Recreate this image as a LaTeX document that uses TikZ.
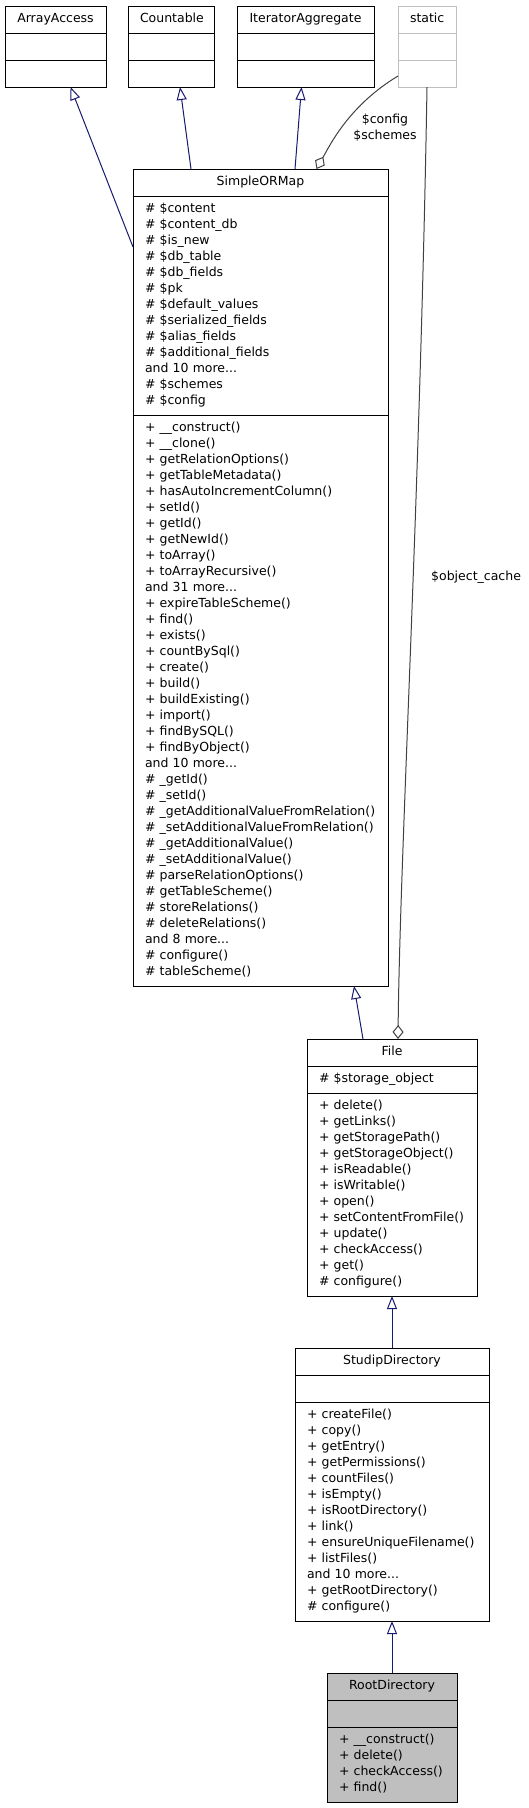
\documentclass[tikz,border=0pt]{standalone}
\usepackage{fontspec}
\usepackage{xcolor}
\usepackage{tikz}
\usetikzlibrary{arrows.meta,positioning,calc}
\newfontfamily\umlfont{DejaVu Sans}
\definecolor{edgeblue}{RGB}{25,25,112}
\definecolor{edgegrey}{RGB}{64,64,64}
\definecolor{boxgrey}{RGB}{191,191,191}
\newcommand{\pub}[1]{+~#1}
\newcommand{\prot}[1]{\#~#1}

\begin{document}
\begin{tikzpicture}[x=1pt, y=-1pt,
            part/.style={draw, fill=white, line width=1pt, outer sep=0pt, inner xsep=12pt, inner ysep=5.5pt,
                 text width=#1, font={\umlfont\fontsize{12.5}{16}\selectfont},
                 execute at begin node=\strut, execute at end node=\strut},
            head/.style={part=#1, align=center, anchor=north west},
            body/.style={part=#1, align=left},
            inherit/.style={draw=edgeblue, line width=1pt, -{Triangle[open, length=13pt, width=10pt]}},
            aggr/.style={draw=edgegrey, line width=1pt, -{Diamond[open, length=14pt, width=11pt]}},
            lbl/.style={inner sep=0pt, font={\umlfont\fontsize{12.5}{16}\selectfont}}
            ]
            \useasboundingbox (0,0) rectangle (529,1808);

            % Interfaces and static
            \node[head=77pt] (aa-head) at (5,6) {ArrayAccess};
            \node[body=77pt, below=0pt of aa-head] (aa-attr) {};
            \node[body=77pt, below=0pt of aa-attr] (aa-meth) {};

            \node[head=62pt] (cnt-head) at (128,6) {Countable};
            \node[body=62pt, below=0pt of cnt-head] (cnt-attr) {};
            \node[body=62pt, below=0pt of cnt-attr] (cnt-meth) {};

            \node[head=113pt] (ia-head) at (237,6) {IteratorAggregate};
            \node[body=113pt, below=0pt of ia-head] (ia-attr) {};
            \node[body=113pt, below=0pt of ia-attr] (ia-meth) {};

            \node[head=34pt, draw=boxgrey] (st-head) at (398,6) {static};
            \node[body=34pt, draw=boxgrey, below=0pt of st-head] (st-attr) {};
            \node[body=34pt, draw=boxgrey, below=0pt of st-attr] (st-meth) {};

            % SimpleORMap
            \node[head=231pt] (sorm-head) at (133,169) {SimpleORMap};
            \node[body=231pt, below=0pt of sorm-head] (sorm-attr) {\prot{\$content}\\
                \prot{\$content\_db}\\
                \prot{\$is\_new}\\
                \prot{\$db\_table}\\
                \prot{\$db\_fields}\\
                \prot{\$pk}\\
                \prot{\$default\_values}\\
                \prot{\$serialized\_fields}\\
                \prot{\$alias\_fields}\\
                \prot{\$additional\_fields}\\
                and~10~more...\\
                \prot{\$schemes}\\
                \prot{\$config}};
            \node[body=231pt, below=0pt of sorm-attr] (sorm-meth) {\pub{\_\_construct()}\\
                \pub{\_\_clone()}\\
                \pub{getRelationOptions()}\\
                \pub{getTableMetadata()}\\
                \pub{hasAutoIncrementColumn()}\\
                \pub{setId()}\\
                \pub{getId()}\\
                \pub{getNewId()}\\
                \pub{toArray()}\\
                \pub{toArrayRecursive()}\\
                and~31~more...\\
                \pub{expireTableScheme()}\\
                \pub{find()}\\
                \pub{exists()}\\
                \pub{countBySql()}\\
                \pub{create()}\\
                \pub{build()}\\
                \pub{buildExisting()}\\
                \pub{import()}\\
                \pub{findBySQL()}\\
                \pub{findByObject()}\\
                and~10~more...\\
                \prot{\_getId()}\\
                \prot{\_setId()}\\
                \prot{\_getAdditionalValueFromRelation()}\\
                \prot{\_setAdditionalValueFromRelation()}\\
                \prot{\_getAdditionalValue()}\\
                \prot{\_setAdditionalValue()}\\
                \prot{parseRelationOptions()}\\
                \prot{getTableScheme()}\\
                \prot{storeRelations()}\\
                \prot{deleteRelations()}\\
                and~8~more...\\
                \prot{configure()}\\
                \prot{tableScheme()}};

            % File
            \node[head=146pt] (file-head) at (307,1039) {File};
            \node[body=146pt, below=0pt of file-head] (file-attr) {\prot{\$storage\_object}};
            \node[body=146pt, below=0pt of file-attr] (file-meth) {\pub{delete()}\\
                \pub{getLinks()}\\
                \pub{getStoragePath()}\\
                \pub{getStorageObject()}\\
                \pub{isReadable()}\\
                \pub{isWritable()}\\
                \pub{open()}\\
                \pub{setContentFromFile()}\\
                \pub{update()}\\
                \pub{checkAccess()}\\
                \pub{get()}\\
                \prot{configure()}};

            % StudipDirectory
            \node[head=170pt] (sd-head) at (295,1348) {StudipDirectory};
            \node[body=170pt, below=0pt of sd-head] (sd-attr) {};
            \node[body=170pt, below=0pt of sd-attr] (sd-meth) {\pub{createFile()}\\
                \pub{copy()}\\
                \pub{getEntry()}\\
                \pub{getPermissions()}\\
                \pub{countFiles()}\\
                \pub{isEmpty()}\\
                \pub{isRootDirectory()}\\
                \pub{link()}\\
                \pub{ensureUniqueFilename()}\\
                \pub{listFiles()}\\
                and~10~more...\\
                \pub{getRootDirectory()}\\
                \prot{configure()}};

            % RootDirectory
            \node[head=106pt, fill=boxgrey] (rd-head) at (327,1673) {RootDirectory};
            \node[body=106pt, fill=boxgrey, below=0pt of rd-head] (rd-attr) {};
            \node[body=106pt, fill=boxgrey, below=0pt of rd-attr] (rd-meth) {\pub{\_\_construct()}\\
                \pub{delete()}\\
                \pub{checkAccess()}\\
                \pub{find()}};

            % Generalisation arrows
            \draw[inherit] ($(sorm-attr.north west)+(0,51)$) -- ($(aa-meth.south)+(15,0)$);
            \draw[inherit] ($(sorm-head.north)+(-69.5,0)$) -- ($(cnt-meth.south)+(9,0)$);
            \draw[inherit] ($(sorm-head.north)+(34.5,0)$) -- ($(ia-meth.south)+(-4,0)$);
            \draw[inherit] ($(file-head.north)+(-29,0)$) -- ($(sorm-meth.south)+(93.5,0)$);
            \draw[inherit] (sd-head.north) -- (file-meth.south);
            \draw[inherit] (rd-head.north) -- (sd-meth.south);

            % Aggregation
            \draw[aggr] ($(st-meth.north west)+(0,16)$) .. controls (350,105) and (331,143) .. ($(sorm-head.north)+(56,0)$);
            \draw[aggr] (st-meth.south) .. controls (420,500) and (400,850) .. ($(file-head.north)+(6,0)$);

            % Labels
            \node[lbl, align=center] (lbl-cfg) at (385,128) {\$config\\\$schemes};
            \node[lbl, anchor=west] (lbl-cache) at (431,577) {\$object\_cache};
        \end{tikzpicture}
\end{document}
